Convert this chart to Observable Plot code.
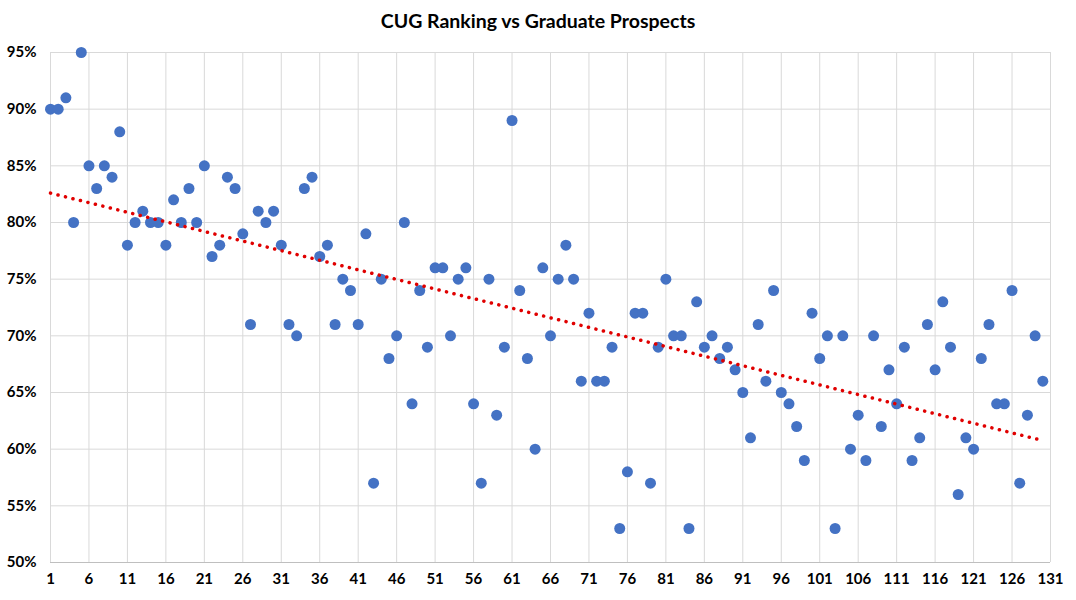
<!DOCTYPE html>
<html>
<head>
<meta charset="utf-8">
<script src="https://cdn.jsdelivr.net/npm/d3@7"></script>
<script src="https://cdn.jsdelivr.net/npm/@observablehq/plot@0.6"></script>
<style>
  html, body { margin: 0; padding: 0; background: #fff; }
  body { width: 1076px; height: 600px; overflow: hidden; font-family: Lato, "Open Sans", sans-serif; }
  #title { height: 40px; line-height: 42px; text-align: center; font-weight: bold; font-size: 19.5px; color: #000; }
  #chart svg { display: block; }
</style>
</head>
<body>
<div id="title">CUG Ranking vs Graduate Prospects</div>
<div id="chart"></div>
<script>
// Graduate prospects (%) for CUG ranking positions 1..130
const prospects = [
  90, 90, 91, 80, 95, 85, 83, 85, 84, 88,
  78, 80, 81, 80, 80, 78, 82, 80, 83, 80,
  85, 77, 78, 84, 83, 79, 71, 81, 80, 81,
  78, 71, 70, 83, 84, 77, 78, 71, 75, 74,
  71, 79, 57, 75, 68, 70, 80, 64, 74, 69,
  76, 76, 70, 75, 76, 64, 57, 75, 63, 69,
  89, 74, 68, 60, 76, 70, 75, 78, 75, 66,
  72, 66, 66, 69, 53, 58, 72, 72, 57, 69,
  75, 70, 70, 53, 73, 69, 70, 68, 69, 67,
  65, 61, 71, 66, 74, 65, 64, 62, 59, 72,
  68, 70, 53, 70, 60, 63, 59, 70, 62, 67,
  64, 69, 59, 61, 71, 67, 73, 69, 56, 61,
  60, 68, 71, 64, 64, 74, 57, 63, 70, 66
];
const ranks = prospects.map((_, i) => i + 1);
const xTicks = d3.range(1, 132, 5);
const yTicks = d3.range(50, 96, 5);

const data = ranks.map((r, i) => ({rank: r, value: prospects[i]}));

const chart = Plot.plot({
  width: 1076,
  height: 560,
  marginTop: 12,
  marginBottom: 38,
  marginLeft: 50,
  marginRight: 26,
  style: {fontFamily: "Lato, 'Open Sans', sans-serif", fontSize: "15px", fontWeight: "bold", color: "#000", background: "#fff"},
  x: {domain: [1, 131], ticks: xTicks, label: null, tickSize: 0, tickPadding: 11},
  y: {domain: [50, 95], ticks: yTicks, label: null, tickSize: 0, tickPadding: 14, tickFormat: d => d + "%"},
  marks: [
    Plot.gridX(xTicks, {stroke: "#d9d9d9", strokeOpacity: 1, strokeWidth: 1}),
    Plot.gridY(yTicks, {stroke: "#d9d9d9", strokeOpacity: 1, strokeWidth: 1}),
    Plot.ruleY([50], {stroke: "#bfbfbf", strokeWidth: 1}),
    Plot.axisX(xTicks, {tickSize: 0, tickPadding: 11, fontSize: 15, fontWeight: "bold", fill: "#000"}),
    Plot.axisY(yTicks, {tickSize: 0, tickPadding: 14, fontSize: 15, fontWeight: "bold", fill: "#000", tickFormat: d => d + "%"}),
    Plot.dot(data, {x: "rank", y: "value", r: 5.5, fill: "#4472c4", stroke: "none"}),
    Plot.linearRegressionY(data, {x: "rank", y: "value", ci: 0, stroke: "#e00000", strokeWidth: 3.5, strokeDasharray: "0.1 7.6", strokeLinecap: "round"})
  ]
});
document.getElementById("chart").appendChild(chart);
</script>
</body>
</html>
